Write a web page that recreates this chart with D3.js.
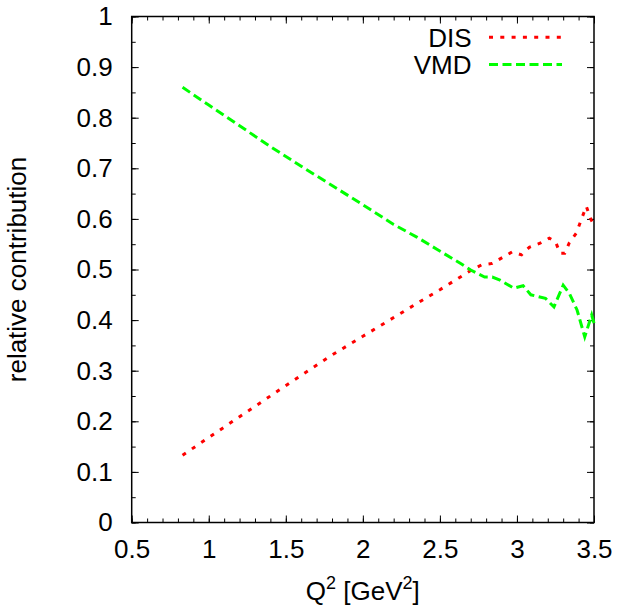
<!DOCTYPE html>
<html>
<head>
<meta charset="utf-8">
<script src="https://cdn.jsdelivr.net/npm/d3@7"></script>
<style>
  body { margin: 0; background: #fff; }
  text { font-family: "Liberation Sans", Arial, sans-serif; fill: #000; }
</style>
</head>
<body>
<div id="chart"></div>
<script>
// values
var qDIS = [0.83, 1.0, 1.2, 1.4, 1.6, 1.8, 2.0, 2.2, 2.4, 2.5, 2.6, 2.7, 2.77, 2.84, 2.97, 3.03, 3.08, 3.15, 3.21, 3.25, 3.28, 3.31, 3.34, 3.385, 3.45, 3.48, 3.5];
var valDIS = [0.133, 0.168, 0.209, 0.25, 0.291, 0.331, 0.368, 0.405, 0.442, 0.46, 0.479, 0.498, 0.509, 0.512, 0.535, 0.529, 0.544, 0.552, 0.562, 0.555, 0.532, 0.532, 0.553, 0.572, 0.625, 0.599, 0.588];
var qVMD = [0.83, 1.0, 1.2, 1.4, 1.6, 1.8, 2.0, 2.2, 2.35, 2.48, 2.64, 2.7, 2.79, 2.84, 2.89, 2.98, 3.04, 3.09, 3.185, 3.24, 3.30, 3.34, 3.39, 3.44, 3.485, 3.5];
var valVMD = [0.860, 0.825, 0.784, 0.743, 0.704, 0.666, 0.628, 0.589, 0.564, 0.540, 0.511, 0.499, 0.485, 0.485, 0.479, 0.463, 0.468, 0.450, 0.443, 0.426, 0.469, 0.453, 0.420, 0.367, 0.41, 0.394];

var xTicks = [0.5, 1, 1.5, 2, 2.5, 3, 3.5];
var xMinor = d3.range(5, 36).map(function(d){ return d/10; });
var yTicks = d3.range(0, 11).map(function(d){ return d/10; });
var yMinor = d3.range(0, 21).map(function(d){ return d/20; });
var seriesNames = ["DIS", "VMD"];

var W = 618, H = 606;
// plot box (window.top is reserved, so prefixed names)
var pL = 131.7, pR = 594, pT = 16.5, pB = 522.5;
var fs = "26px";

var svg = d3.select("#chart").append("svg")
  .attr("width", W).attr("height", H);

var x = d3.scaleLinear().domain([0.5, 3.5]).range([pL, pR]);
var y = d3.scaleLinear().domain([0, 1]).range([pB, pT]);

//ticks, inward on all four sides
function tickAxis(axis, vals, len, labels) {
  return axis.tickValues(vals).tickSize(len).tickSizeOuter(0).tickPadding(9)
    .tickFormat(labels ? function(d){ return d3.format("")(+d.toFixed(2)); } : "");
}
function drawAxis(gen, tx, ty) {
  var g = svg.append("g").attr("transform", "translate(" + tx + "," + ty + ")").call(gen);
  g.select(".domain").remove();
  g.selectAll("line").attr("stroke", "#000").attr("stroke-width", 1);
  g.selectAll("text").style("font-size", fs);
  return g;
}

drawAxis(tickAxis(d3.axisBottom(x), xMinor, -4, false), 0, pB);
var gxb = drawAxis(tickAxis(d3.axisBottom(x), xTicks, -7, true), 0, pB);
gxb.selectAll("text").attr("y", 17).attr("dy", "0.71em");
drawAxis(tickAxis(d3.axisTop(x), xMinor, -4, false), 0, pT);
drawAxis(tickAxis(d3.axisTop(x), xTicks, -7, false), 0, pT);

drawAxis(tickAxis(d3.axisLeft(y), yMinor, -4, false), pL, 0);
var gyl = drawAxis(tickAxis(d3.axisLeft(y), yTicks, -7, true), pL, 0);
gyl.selectAll("text").attr("x", -19);
drawAxis(tickAxis(d3.axisRight(y), yMinor, -4, false), pR, 0);
drawAxis(tickAxis(d3.axisRight(y), yTicks, -7, false), pR, 0);

// frame
svg.append("rect")
  .attr("x", pL).attr("y", pT)
  .attr("width", pR - pL).attr("height", pB - pT)
  .attr("fill", "none").attr("stroke", "#000").attr("stroke-width", 1.5);

var line = d3.line()
  .x(function(d){ return x(d[0]); })
  .y(function(d){ return y(d[1]); });

var styles = {
  DIS: { color: "#ff0000", dash: "4,7.3" },
  VMD: { color: "#00ff00", dash: "9,4.5" }
};

svg.append("path")
  .datum(d3.zip(qDIS, valDIS))
  .attr("d", line)
  .attr("fill", "none")
  .attr("stroke", styles.DIS.color)
  .attr("stroke-width", 3)
  .attr("stroke-dasharray", styles.DIS.dash);

svg.append("path")
  .datum(d3.zip(qVMD, valVMD))
  .attr("d", line)
  .attr("fill", "none")
  .attr("stroke", styles.VMD.color)
  .attr("stroke-width", 3)
  .attr("stroke-dasharray", styles.VMD.dash);

// legend
var leg = svg.append("g");
seriesNames.forEach(function(name, i) {
  var cy = 37.3 + i * 27.3;
  leg.append("text")
    .attr("x", 471.5).attr("y", cy).attr("dy", "0.36em")
    .attr("text-anchor", "end")
    .style("font-size", fs)
    .text(name);
  leg.append("line")
    .attr("x1", 489).attr("x2", 562)
    .attr("y1", cy).attr("y2", cy)
    .attr("stroke", styles[name].color)
    .attr("stroke-width", 3)
    .attr("stroke-dasharray", styles[name].dash);
});

// axis titles
var xt = svg.append("text")
  .attr("x", (pL + pR) / 2).attr("y", 600)
  .attr("text-anchor", "middle")
  .style("font-size", fs);
xt.append("tspan").text("Q");
xt.append("tspan").attr("dy", -11).style("font-size", "18px").text("2");
xt.append("tspan").attr("dy", 11).text(" [GeV");
xt.append("tspan").attr("dy", -11).style("font-size", "18px").text("2");
xt.append("tspan").attr("dy", 11).text("]");

svg.append("text")
  .attr("transform", "translate(26," + ((pT + pB) / 2) + ") rotate(-90)")
  .attr("text-anchor", "middle")
  .style("font-size", fs)
  .text("relative contribution");
</script>
</body>
</html>
